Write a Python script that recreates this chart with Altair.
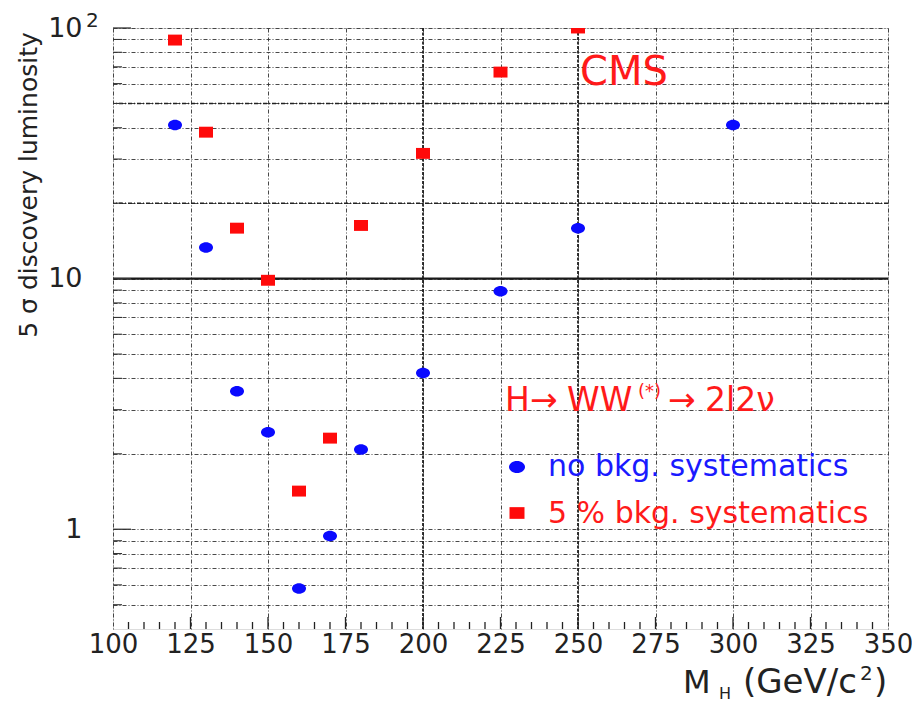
import altair as alt
import pandas as pd

# ---- data ----
mh_nosys = [120, 130, 140, 150, 160, 170, 180, 200, 225, 250, 300]
lumi_nosys = [41.0, 13.3, 3.55, 2.44, 0.58, 0.94, 2.08, 4.2, 8.9, 15.9, 41.0]

mh_sys5 = [120, 130, 140, 150, 160, 170, 180, 200, 225, 250]
lumi_sys5 = [89.5, 38.4, 15.9, 9.85, 1.42, 2.31, 16.3, 31.6, 66.7, 100.0]

x_grid = [100, 125, 150, 175, 200, 225, 250, 275, 300, 325, 350]
x_bold_grid = [200, 250]
x_minor_ticks = [v for v in range(105, 350, 5) if v % 25 != 0]
x_major_ticks = [125, 150, 175, 200, 225, 250, 275, 300, 325]
y_grid = [0.5, 0.6, 0.7, 0.8, 0.9, 1, 2, 3, 4, 5, 6, 7, 8, 9,
          10, 20, 30, 40, 50, 60, 70, 80, 90, 100]
y_major = [1, 10, 100]
y_dark_grid = [20, 50]

FONT = "DejaVu Sans"
W, H = 775, 601
GRID_DASH = [4, 2, 1, 2]
DX = 2  # annotation shift to keep absolute positions (plot starts 2px further left)

xs = alt.Scale(domain=[100, 350], nice=False, zero=False)
ys = alt.Scale(type="log", domain=[0.4, 100], nice=False)

X_AX = alt.Axis(
    values=x_grid, grid=True, gridColor="#333", gridDash=GRID_DASH, gridWidth=0.9,
    domain=False, ticks=False, labelFont=FONT, labelFontSize=26, labelColor="#222",
    labelPadding=2, labelFlush=False, labelOverlap=False, title=None, format="d")
Y_AX = alt.Axis(
    values=y_grid, grid=True, gridColor="#333", gridDash=GRID_DASH, gridWidth=0.9,
    domain=False, ticks=False, labelFont=FONT, labelFontSize=27, labelColor="#222",
    labelPadding=31, labelFlush=False, labelOverlap=False, title=None,
    labelExpr="datum.value == 1 ? '1' : (datum.value == 10 || datum.value == 100) ? '10' : ''")


def X(field="mh"):
    return alt.X(f"{field}:Q", scale=xs, axis=X_AX)


def Y(field="lumi"):
    return alt.Y(f"{field}:Q", scale=ys, axis=Y_AX)


ELLIPSE = "M-1,0A1,0.75,0,1,1,1,0A1,0.75,0,1,1,-1,0Z"
RECT = "M-1,-0.78L1,-0.78L1,0.78L-1,0.78Z"

df_no = pd.DataFrame({"mh": mh_nosys, "lumi": lumi_nosys})
df_sys = pd.DataFrame({"mh": mh_sys5, "lumi": lumi_sys5})

bold_x = alt.Chart(pd.DataFrame({"mh": x_bold_grid})).mark_rule(
    color="#222", strokeWidth=1.8, strokeDash=[3, 1.5]).encode(x=X())

dark_y = alt.Chart(pd.DataFrame({"lumi": y_dark_grid})).mark_rule(
    color="#222", strokeWidth=1.4, strokeDash=GRID_DASH).encode(y=Y())

solid10 = alt.Chart(pd.DataFrame({"lumi": [10]})).mark_rule(
    color="#1a1a1a", strokeWidth=2.2).encode(y=Y())

minor_xt = alt.Chart(pd.DataFrame({"mh": x_minor_ticks})).mark_rule(
    color="#222", strokeWidth=1.3).encode(x=X(), y=alt.value(H), y2=alt.value(H - 7))

major_xt = alt.Chart(pd.DataFrame({"mh": x_major_ticks})).mark_rule(
    color="#222", strokeWidth=1.3).encode(x=X(), y=alt.value(H), y2=alt.value(H - 12))

minor_yt = alt.Chart(pd.DataFrame({"lumi": [v for v in y_grid if v not in y_major]})).mark_rule(
    color="#333", strokeWidth=1.1).encode(y=Y(), x=alt.value(0), x2=alt.value(9))

major_yt = alt.Chart(pd.DataFrame({"lumi": y_major})).mark_rule(
    color="#333", strokeWidth=1.3).encode(y=Y(), x=alt.value(0), x2=alt.value(18))

pts_no = alt.Chart(df_no).mark_point(
    shape=ELLIPSE, filled=True, size=196, color="#0a0aff", opacity=1, strokeWidth=0).encode(
    x=X(), y=Y())

pts_sys = alt.Chart(df_sys).mark_point(
    shape=RECT, filled=True, size=196, color="#ff0a0a", opacity=1, strokeWidth=0, clip=True).encode(
    x=X(), y=Y())


def txt(s, x, y, size, color="#222", align="left", baseline="alphabetic", angle=0):
    return alt.Chart(pd.DataFrame({"t": [s]})).mark_text(
        font=FONT, fontSize=size, color=color, align=align, baseline=baseline, angle=angle
    ).encode(text="t:N", x=alt.value(x + DX), y=alt.value(y))


RED = "#ff1a1a"
BLUE = "#1a1aff"

annotations = [
    txt("CMS", 465, 57, 40, RED),
    # H -> WW(*) -> 2l2nu, placed piece by piece
    txt("H", 390, 383, 33, RED),
    txt("\u2192", 415, 383, 33, RED),
    txt("WW", 452, 383, 33, RED),
    txt("(*)", 523, 369, 18, RED),
    txt("\u2192", 553, 383, 33, RED),
    txt("2l2\u03bd", 590, 383, 33, RED),
    txt("no bkg. systematics", 433, 448, 30, BLUE),
    txt("5 % bkg. systematics", 433, 495, 30, RED),
    # superscript on top y label
    txt("2", -29, -7, 20, "#222", baseline="middle"),
    # y title
    txt("5 \u03c3 discovery luminosity", -86, 157, 25, "#222", align="center",
        baseline="middle", angle=270),
    # x title pieces
    txt("M", 568, 665, 32),
    txt("H", 604, 671, 16),
    txt("(GeV/c", 628, 665, 34),
    txt("2", 745, 652, 20),
    txt(")", 759, 665, 34),
]

leg_no = alt.Chart(pd.DataFrame({"a": [0]})).mark_point(
    shape=ELLIPSE, filled=True, size=256, color="#0a0aff", opacity=1, strokeWidth=0).encode(
    x=alt.value(402 + DX), y=alt.value(439))
leg_sys = alt.Chart(pd.DataFrame({"a": [0]})).mark_point(
    shape=RECT, filled=True, size=225, color="#ff0a0a", opacity=1, strokeWidth=0).encode(
    x=alt.value(402 + DX), y=alt.value(485))

chart = alt.layer(
    dark_y, bold_x, solid10, minor_xt, major_xt, minor_yt, major_yt,
    pts_no, pts_sys, leg_no, leg_sys, *annotations
).properties(
    width=W, height=H,
    padding={"left": 105, "top": 20, "right": 24, "bottom": 76},
    autosize="none",
    background="white",
).configure_view(
    stroke="#1a1a1a", strokeWidth=2
).configure(font=FONT)

chart.save("out.html", embed_options={"renderer": "svg", "actions": False})
